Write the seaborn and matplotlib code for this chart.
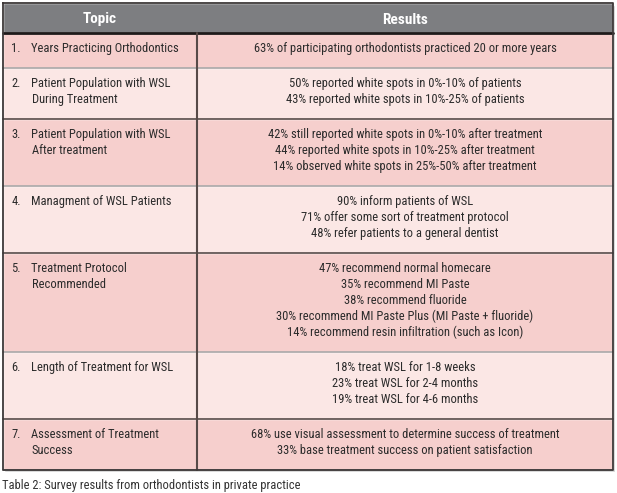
import numpy as np
import seaborn as sns
import matplotlib.pyplot as plt

sns.set_style("white")
plt.rcParams['font.family'] = ['Roboto Condensed', 'DejaVu Sans']

topics = [
    ["1.", "Years Practicing Orthodontics"],
    ["2.", "Patient Population with WSL", " During Treatment"],
    ["3.", "Patient Population with WSL", " After treatment"],
    ["4.", "Managment of WSL Patients"],
    ["5.", "Treatment Protocol", " Recommended"],
    ["6.", "Length of Treatment for WSL"],
    ["7.", "Assessment of Treatment", " Success"],
]
results = [
    ["63% of participating orthodontists practiced 20 or more years"],
    ["50% reported white spots in 0%-10% of patients",
     "43% reported white spots in 10%-25% of patients"],
    ["42% still reported white spots in 0%-10% after treatment",
     "44% reported white spots in 10%-25% after treatment",
     "14% observed white spots in 25%-50% after treatment"],
    ["90% inform patients of WSL",
     "71% offer some sort of treatment protocol",
     "48% refer patients to a general dentist"],
    ["47% recommend normal homecare",
     "35% recommend MI Paste",
     "38% recommend fluoride",
     "30% recommend MI Paste Plus (MI Paste + fluoride)",
     "14% recommend resin infiltration (such as Icon)"],
    ["18% treat WSL for 1-8 weeks",
     "23% treat WSL for 2-4 months",
     "19% treat WSL for 4-6 months"],
    ["68% use visual assessment to determine success of treatment",
     "33% base treatment success on patient satisfaction"],
]
headers = ["Topic", "Results"]
caption = "Table 2: Survey results from orthodontists in private practice"

# layout in pixels
left, mid, right = 2.5, 197, 613
top, header_h = 3, 30
line_h, pad = 16, 19
fs = 9.0
pink, light, head_col = "#f6cfcd", "#fbe7e5", "#7d7e81"
dark, grey = "#574a48", "#a9a6a6"
txt_col = "#2b2b2b"

fig = plt.figure(figsize=(6.17, 4.93), dpi=100)
ax = fig.add_axes([0, 0, 1, 1])
ax.set_xlim(0, 617)
ax.set_ylim(493, 0)
ax.axis("off")

n_lines = np.array([max(len(results[i]), len(topics[i]) - 1) for i in range(len(results))])
heights = pad + line_h * n_lines
tops = top + header_h + np.concatenate([[0], np.cumsum(heights)[:-1]])
bottom = tops[-1] + heights[-1]

# shadow
ax.barh(top + 1.5, right - left, height=bottom - top, left=left + 1.5,
        align="edge", color="#c8c8c8", zorder=0)
# header
ax.barh(top, right - left, height=header_h, left=left, align="edge",
        color=head_col, zorder=1)
ax.text((left + mid) / 2, top + header_h / 2 + 1.5, headers[0], color="white",
        fontsize=11, fontweight="bold", ha="center", va="center")
ax.text((mid + right) / 2, top + header_h / 2 + 1.5, headers[1], color="white",
        fontsize=11, fontweight="bold", ha="center", va="center")

for i in range(len(results)):
    col = pink if i % 2 == 0 else light
    ax.barh(tops[i], right - left, height=heights[i], left=left, align="edge",
            color=col, zorder=1)
    y0 = tops[i] + 15.5
    ax.text(11.5, y0, topics[i][0], fontsize=fs, color=txt_col, va="center", zorder=3)
    for k, t in enumerate(topics[i][1:]):
        ax.text(31 + k, y0 + k * line_h, t.strip(), fontsize=fs, color=txt_col,
                va="center", zorder=3)
    for k, t in enumerate(results[i]):
        ax.text((mid + right) / 2, y0 + k * line_h, t, fontsize=fs, color=txt_col,
                ha="center", va="center", zorder=3)
    ax.plot([left, right], [tops[i] + heights[i]] * 2,
            color=grey if i % 2 == 0 else dark, lw=1.2, zorder=4)

ax.plot([left, right], [top + header_h] * 2, color="#1e1a1a", lw=2, zorder=4)
ax.plot([mid, mid], [top + header_h, bottom], color=dark, lw=1.5, zorder=4)
ax.plot([left, right, right, left, left], [top, top, bottom, bottom, top],
        color="#3d3838", lw=1.3, zorder=5)

ax.text(2, bottom + 15.5, caption, fontsize=fs, color="#333333", va="center")

fig.savefig("out.png", dpi=100)
